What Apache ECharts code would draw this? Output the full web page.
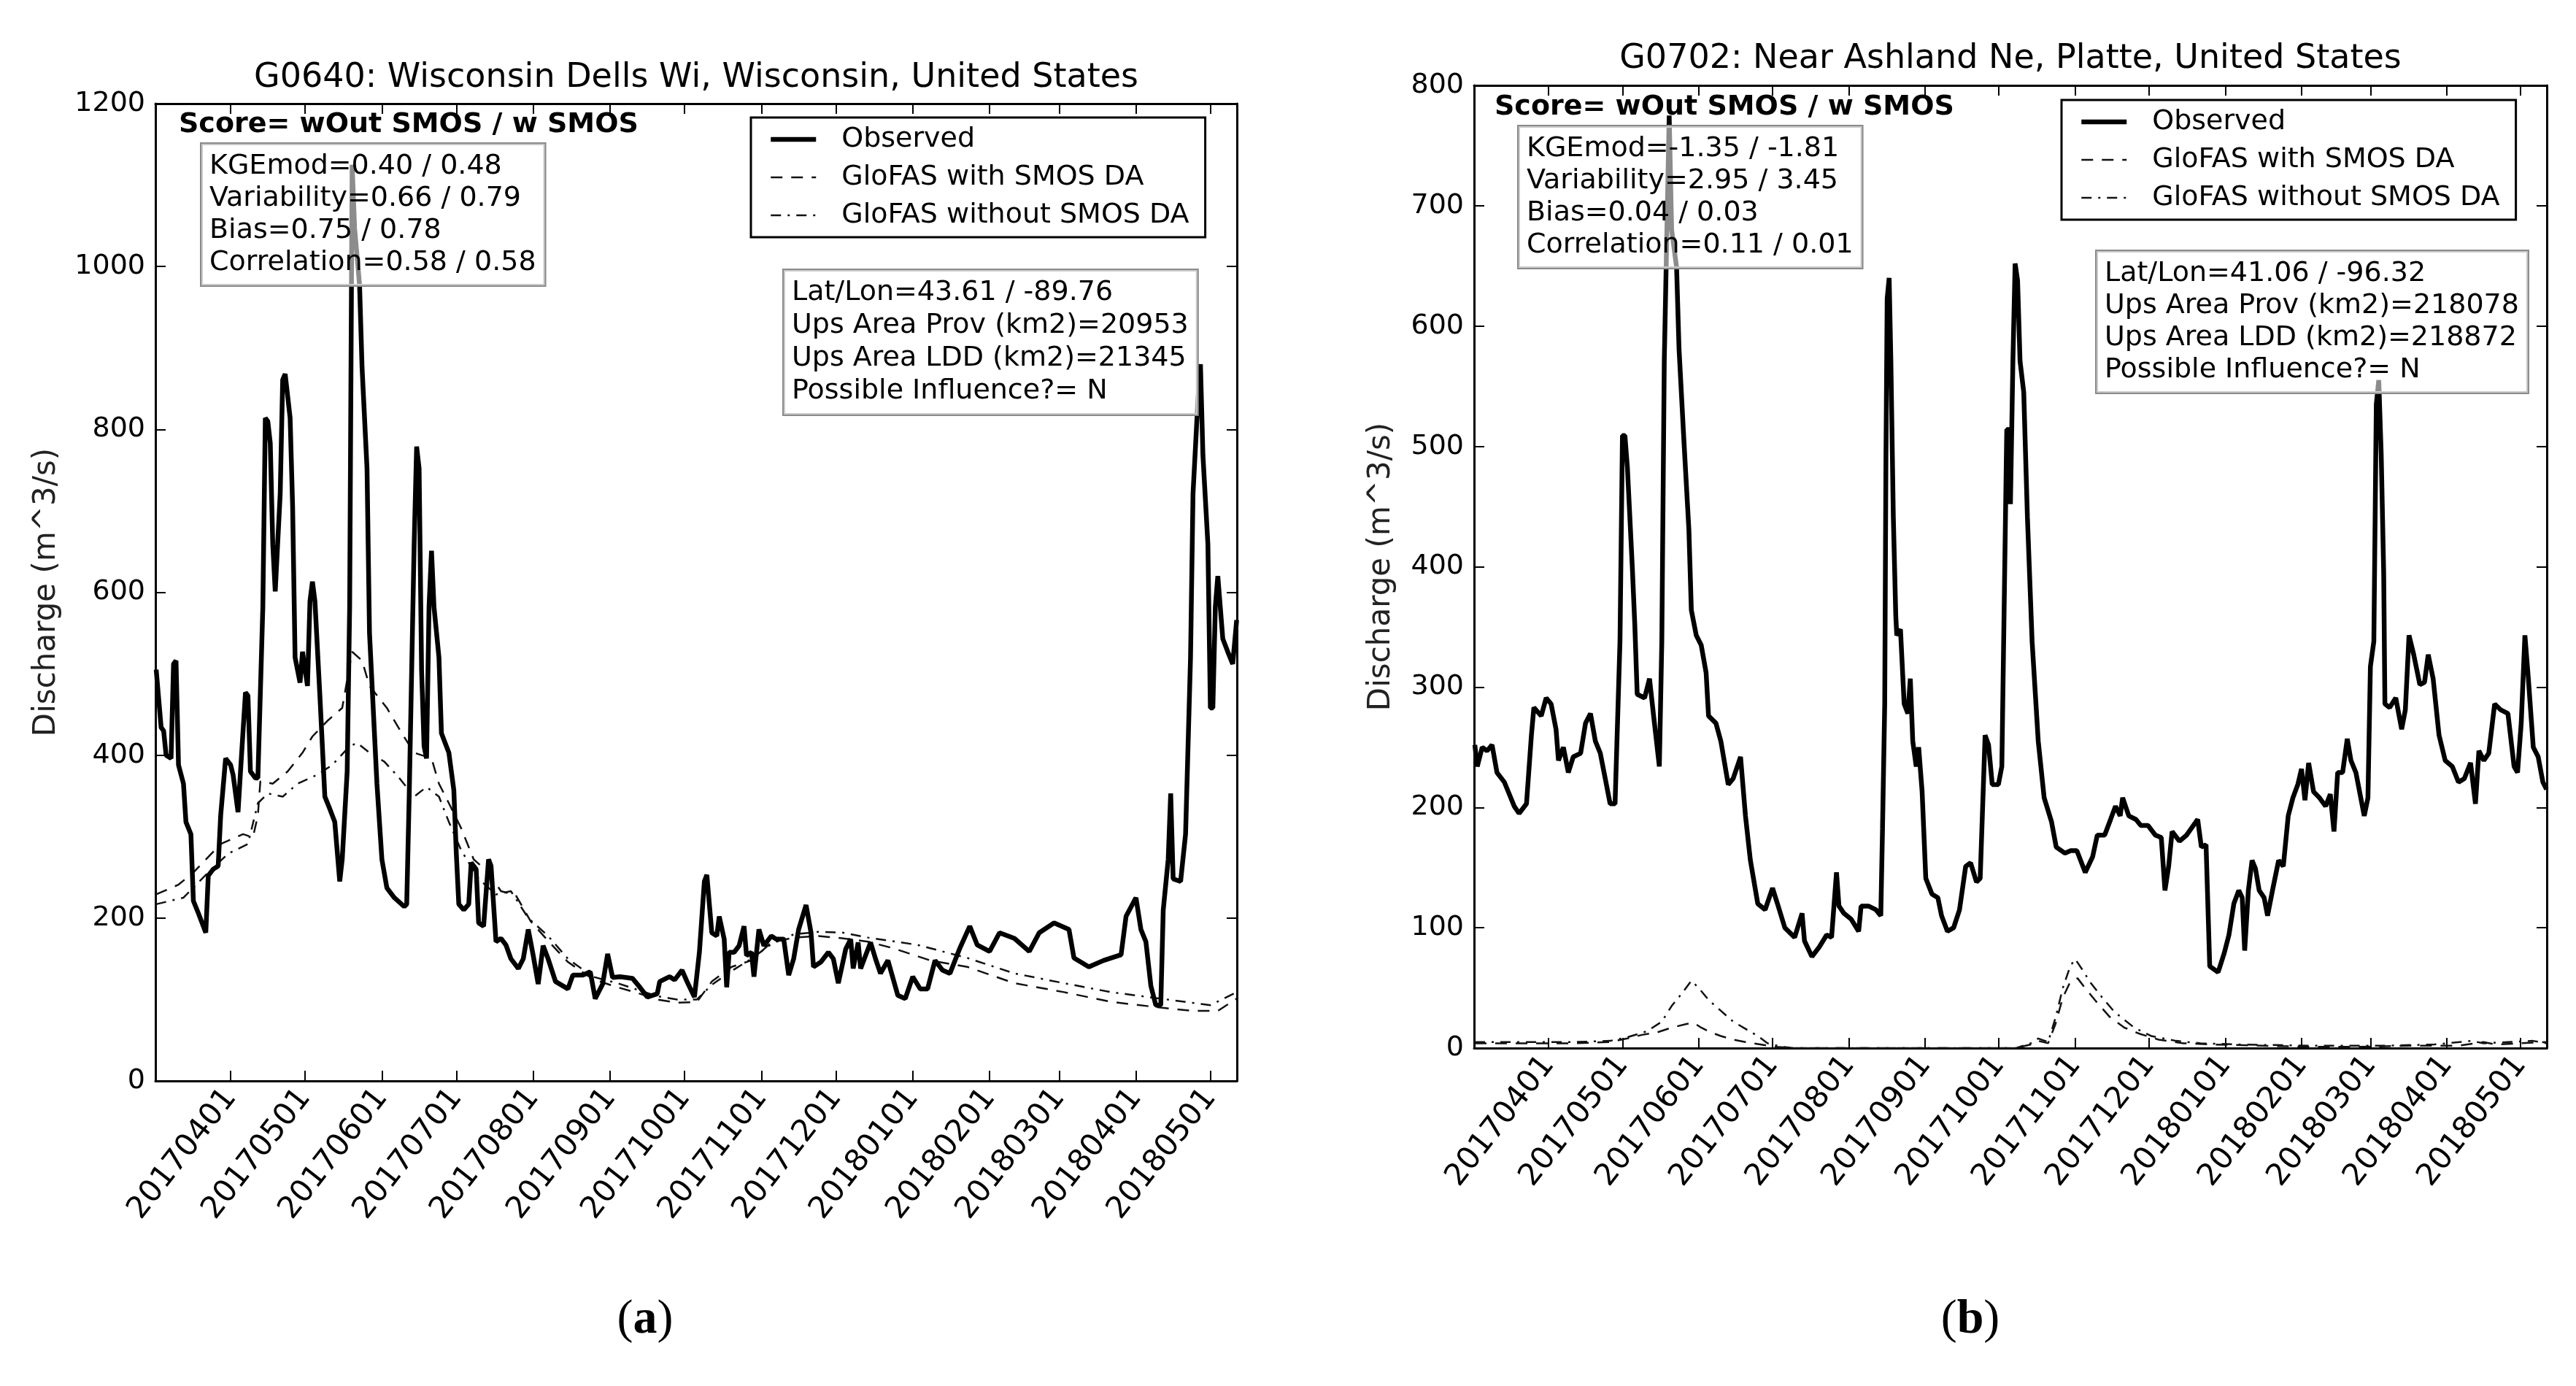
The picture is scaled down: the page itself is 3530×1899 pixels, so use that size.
<!DOCTYPE html>
<html lang="en">
<head>
<meta charset="UTF-8">
<title>GloFAS discharge with and without SMOS DA</title>
<script src="https://cdn.jsdelivr.net/npm/echarts@6.0.0/dist/echarts.min.js"></script>
<style>
html, body { margin: 0; padding: 0; background: #fff; }
#chart { width: 3530px; height: 1899px; }
</style>
</head>
<body>
<div id="chart"></div>
<script>
// month ticks on the x axis
const tickLabels = ['20170401', '20170501', '20170601', '20170701', '20170801', '20170901', '20171001',
  '20171101', '20171201', '20180101', '20180201', '20180301', '20180401', '20180501'];
const seriesNames = ['Observed', 'GloFAS with SMOS DA', 'GloFAS without SMOS DA'];

// (a) G0640 - day offsets are counted from 2017-03-02
const obsDaysA = [0, 2, 3, 4, 6, 7, 8, 9, 11, 12, 14, 15, 17, 20, 21, 23, 25, 26, 28, 30, 31, 33, 34, 36, 37, 38, 40, 41,
  43, 44, 45, 46, 47, 48, 50, 51, 52, 54, 55, 56, 58, 59, 61, 62, 63, 64, 66, 68, 70, 72, 74, 75, 77, 78, 79, 80, 82, 83,
  85, 86, 89, 91, 93, 96, 100, 101, 102, 104, 105, 106, 107, 108, 109, 110, 111, 112, 114, 115, 118, 120, 121, 122, 124,
  126, 127, 129, 130, 132, 134, 135, 137, 139, 141, 143, 146, 148, 150, 152, 154, 156, 158, 161, 166, 168, 172, 175, 177,
  180, 182, 184, 187, 192, 195, 198, 202, 203, 207, 209, 212, 214, 217, 219, 221, 222, 224, 226, 227, 229, 230, 231, 233,
  235, 237, 238, 240, 241, 243, 245, 248, 250, 253, 255, 257, 259, 262, 264, 265, 268, 271, 273, 275, 278, 280, 281, 283,
  284, 286, 288, 290, 292, 295, 299, 302, 305, 308, 311, 314, 317, 320, 324, 328, 331, 336, 340, 346, 352, 356, 362, 368,
  370, 376, 382, 389, 391, 395, 397, 399, 401, 403, 405, 406, 408, 409, 410, 413, 415, 417, 418, 420, 421, 422, 424, 425,
  426, 427, 428, 430, 432, 434, 435.6];
const obsA = [505, 434, 430, 400, 396, 512, 516, 388, 365, 318, 303, 221, 206, 182, 252, 260, 264, 326, 396, 388, 376, 330,
  380, 477, 473, 380, 372, 372, 582, 814, 810, 783, 659, 601, 721, 861, 868, 814, 706, 520, 489, 527, 485, 589, 613, 589,
  473, 349, 334, 318, 245, 272, 380, 582, 1125, 1047, 977, 876, 752, 550, 365, 272, 237, 225, 214, 217, 349, 659, 779, 752,
  504, 411, 396, 582, 651, 582, 520, 427, 403, 357, 279, 217, 210, 217, 268, 260, 194, 190, 272, 264, 171, 175, 167, 150,
  138, 150, 186, 154, 119, 166, 150, 122, 113, 130, 130, 134, 101, 119, 156, 127, 128, 126, 115, 103, 107, 122, 128, 124,
  136, 122, 103, 158, 245, 253, 182, 178, 202, 174, 115, 158, 158, 166, 190, 154, 158, 128, 186, 166, 178, 174, 174, 130,
  150, 186, 216, 182, 140, 146, 158, 150, 120, 162, 174, 138, 170, 138, 154, 170, 150, 132, 148, 105, 101, 128, 113, 113,
  148, 136, 132, 163, 190, 167, 159, 182, 175, 159, 182, 194, 186, 151, 140, 148, 155, 202, 225, 186, 171, 117, 93, 93,
  210, 272, 353, 248, 245, 303, 520, 721, 837, 880, 768, 659, 458, 458, 582, 620, 543, 527, 512, 566];
const withDaysA = [0, 9, 15, 21, 26, 35, 39, 41, 42, 47, 53, 59, 63, 69, 75, 79, 83, 86, 93, 99, 104, 111, 114, 118, 123,
  128, 134, 139, 145, 151, 158, 166, 176, 186, 194, 202, 210, 218, 224, 232, 240, 248, 257, 267, 277, 287, 297, 312, 327,
  346, 366, 385, 405, 418, 428, 435.6];
const withA = [229, 241, 256, 275, 291, 303, 299, 326, 368, 365, 380, 403, 423, 442, 458, 527, 516, 485, 458, 427, 403,
  396, 365, 341, 310, 272, 256, 233, 228, 196, 172, 146, 125, 115, 108, 100, 96, 97, 122, 140, 148, 170, 176, 178, 175,
  171, 163, 148, 140, 120, 109, 97, 90, 86, 86, 101];
const woutDaysA = [0, 11, 21, 29, 37, 41, 45, 51, 57, 65, 71, 78, 81, 86, 92, 98, 104, 109, 114, 118, 123, 130, 137, 143,
  150, 158, 166, 176, 186, 194, 202, 210, 218, 224, 232, 240, 248, 257, 267, 277, 287, 307, 327, 346, 366, 385, 405, 425,
  435.6];
const woutA = [217, 225, 256, 279, 291, 341, 353, 349, 365, 376, 388, 411, 415, 403, 392, 372, 349, 361, 349, 318, 283,
  248, 229, 233, 200, 178, 150, 128, 120, 112, 104, 100, 100, 118, 135, 150, 168, 180, 183, 182, 176, 167, 151, 132, 120,
  109, 101, 93, 109];

// (b) G0702
const obsDaysB = [0, 1, 3, 5, 7, 9, 12, 13, 16, 18, 21, 23, 24, 27, 29, 31, 33, 34, 36, 38, 40, 43, 45, 47, 49, 51, 53,
  55, 57, 59, 60, 61, 62, 64, 65, 66, 69, 71, 73, 75, 76, 77, 79, 80, 82, 83, 85, 87, 88, 90, 92, 94, 95, 98, 100, 103,
  105, 108, 110, 112, 115, 118, 121, 123, 126, 130, 133, 134, 137, 140, 143, 145, 147, 148, 150, 153, 156, 157, 160, 163,
  165, 165.7, 166.6, 167.1, 167.6, 168.4, 169.1, 170.1, 171.1, 171.5, 173, 174.5, 176, 177, 178, 179.4, 180.4, 181.8,
  183.3, 185.8, 188.2, 189.7, 192.1, 194.6, 197, 199.5, 201.5, 203.9, 205.4, 207.4, 208.8, 210.3, 212.8, 214.2, 216.2,
  217.2, 217.7, 218.7, 219.6, 220.6, 221.6, 223.1, 224.6, 226.5, 229, 231.4, 234.4, 236.3, 239.8, 242.2, 244.7, 248.1,
  251.1, 253, 256, 258.4, 260.4, 262.3, 263.3, 265.8, 268.7, 270.7, 273.6, 276.6, 279, 280.5, 282, 283.4, 286.4, 289.3,
  293.8, 295.3, 297.2, 298.7, 302.1, 304.6, 306.5, 308.5, 310.5, 311.9, 312.9, 314.4, 315.9, 317.3, 318.8, 320.8, 322.2,
  324.2, 326.7, 328.6, 330.6, 332.5, 334.5, 336, 337.4, 338.9, 340.9, 343.3, 345.8, 347.7, 349.2, 350.7, 352.7, 354.6,
  356.1, 358.1, 361.5, 363, 364, 365.4, 366.4, 367.4, 368.4, 369.4, 369.9, 371.8, 374.3, 376.7, 378.2, 379.7, 381.6,
  384.1, 386, 387.5, 389.5, 391.9, 394.4, 397.3, 399.8, 402.2, 404.7, 406.7, 408.1, 410.1, 412.1, 414.5, 417, 419.9,
  422.4, 423.8, 425.3, 426.8, 428.2, 430.2, 432.2, 434.1, 435.6];
const obsB = [252, 234, 250, 247, 252, 229, 221, 216, 201, 195, 203, 260, 283, 276, 291, 286, 265, 239, 250, 229, 242,
  245, 270, 278, 255, 245, 224, 203, 203, 338, 509, 509, 483, 400, 353, 294, 291, 307, 270, 234, 338, 571, 775, 680, 649,
  581, 504, 431, 364, 343, 335, 312, 276, 270, 255, 219, 224, 242, 193, 156, 120, 115, 133, 120, 100, 92, 112, 89, 76,
  84, 94, 92, 146, 118, 112, 107, 97, 118, 118, 115, 110, 182, 286, 493, 623, 640, 571, 441, 359, 343, 348, 286, 278,
  307, 255, 234, 250, 213, 141, 128, 125, 110, 97, 100, 115, 151, 154, 138, 141, 260, 252, 219, 219, 234, 514, 514, 452,
  571, 652, 638, 571, 545, 441, 338, 255, 208, 188, 167, 162, 164, 164, 146, 159, 177, 177, 190, 201, 193, 208, 193,
  190, 185, 185, 177, 175, 131, 151, 180, 172, 177, 190, 167, 169, 68, 63, 79, 94, 120, 131, 125, 81, 131, 156, 149,
  131, 125, 110, 131, 156, 151, 193, 208, 219, 232, 206, 237, 213, 208, 201, 211, 180, 229, 229, 257, 239, 229, 193,
  208, 317, 338, 535, 555, 493, 395, 286, 283, 291, 265, 281, 343, 327, 302, 304, 327, 307, 260, 239, 234, 221, 224,
  237, 203, 247, 239, 245, 286, 281, 278, 234, 229, 270, 343, 307, 250, 242, 221, 215];
const withDaysB = [0, 20, 40, 55, 62, 68, 74, 80, 86, 89, 92, 96, 100, 105, 110, 116, 122, 130, 220, 226, 229, 233, 236,
  239, 242, 245, 248, 252, 258, 264, 270, 278, 288, 300, 320, 340, 360, 380, 400, 410, 415, 425, 435.6];
const withB = [4, 4, 4, 5, 8, 11, 13, 17, 20, 21, 17, 13, 10, 7, 5, 3, 1, 0, 0, 3, 6, 4, 20, 42, 55, 58, 50, 40, 26, 17,
  12, 7, 4, 3, 2, 1, 1, 2, 2, 5, 3, 4, 5];
const woutDaysB = [0, 20, 40, 55, 62, 70, 76, 80, 84, 88, 91, 95, 100, 105, 110, 115, 119, 125, 130, 220, 226, 229, 233,
  236, 239, 242, 244, 247, 250, 255, 260, 268, 275, 285, 295, 310, 340, 370, 390, 405, 410, 420, 430, 435.6];
const woutB = [5, 5, 5, 6, 9, 14, 22, 35, 45, 56, 50, 40, 31, 22, 16, 10, 4, 1, 0, 0, 4, 8, 5, 25, 50, 68, 74, 65, 55,
  42, 30, 17, 10, 6, 4, 3, 2, 2, 3, 6, 4, 5, 6, 4];

const FONT = '"DejaVu Sans", "Open Sans", sans-serif';
const DAY = 86400000;
const day0 = Date.UTC(2017, 2, 2);
// position of each month tick, in days from 2017-03-02
const tickDays = tickLabels.map(s => Math.round((Date.UTC(+s.slice(0, 4), +s.slice(4, 6) - 1, +s.slice(6, 8)) - day0) / DAY));

function pairs(days, vals) {
  return days.map((d, i) => [d, vals[i]]);
}

function dayAxis(grid, pos, labels) {
  return {
    type: 'value', gridIndex: grid, position: pos, min: -0.3, max: 435.7,
    axisLine: { show: true, onZero: false, lineStyle: { color: '#000', width: 3 } },
    axisTick: { show: true, inside: true, length: 14, customValues: tickDays, lineStyle: { color: '#000', width: 2 } },
    axisLabel: {
      show: labels, customValues: tickDays, rotate: 52, margin: 16, color: '#000',
      fontFamily: FONT, fontSize: 42, showMinLabel: true, showMaxLabel: true, hideOverlap: false,
      formatter: v => { const i = tickDays.indexOf(Math.round(v)); return i >= 0 ? tickLabels[i] : ''; }
    },
    splitLine: { show: false }, minorTick: { show: false }
  };
}

function valueAxis(grid, pos, max, step, labels, nameGap) {
  return {
    type: 'value', gridIndex: grid, position: pos, min: 0, max: max, interval: step,
    name: labels ? 'Discharge (m^3/s)' : '', nameLocation: 'middle', nameGap: nameGap,
    nameTextStyle: { fontFamily: FONT, fontSize: 42, color: '#222' },
    axisLine: { show: true, onZero: false, lineStyle: { color: '#000', width: 3 } },
    axisTick: { show: true, inside: true, length: 14, lineStyle: { color: '#000', width: 2 } },
    axisLabel: {
      show: labels, margin: 14, color: '#000', fontFamily: FONT, fontSize: 38,
      showMinLabel: true, showMaxLabel: true, formatter: v => String(v)
    },
    splitLine: { show: false }
  };
}

function lines(xi, yi, obs, withDa, wout) {
  return [
    { name: seriesNames[1], type: 'line', xAxisIndex: xi, yAxisIndex: yi, data: withDa, symbol: 'none',
      itemStyle: { color: '#111' }, lineStyle: { color: '#111', width: 2.5, type: [16, 12] }, z: 3 },
    { name: seriesNames[2], type: 'line', xAxisIndex: xi, yAxisIndex: yi, data: wout, symbol: 'none',
      itemStyle: { color: '#111' }, lineStyle: { color: '#111', width: 2.5, type: [14, 9, 3, 9] }, z: 3 },
    { name: seriesNames[0], type: 'line', xAxisIndex: xi, yAxisIndex: yi, data: obs, symbol: 'none',
      itemStyle: { color: '#000' }, lineStyle: { color: '#000', width: 6.5 }, z: 4 }
  ];
}

function legendBox(left, top) {
  return {
    data: seriesNames, orient: 'vertical', left: left, top: top, selectedMode: false,
    itemWidth: 62, itemHeight: 20, itemGap: 14, padding: [11, 22, 11, 24],
    borderColor: '#000', borderWidth: 3, backgroundColor: '#fff',
    itemStyle: { opacity: 0 },
    lineStyle: { width: 'inherit', type: 'inherit' },
    textStyle: { fontFamily: FONT, fontSize: 38, color: '#000', padding: [0, 0, 0, 30] }
  };
}

function textBox(x, y, txt, lh) {
  return {
    type: 'text', x: x, y: y, z: 100,
    style: {
      text: txt, fill: '#000', font: '38px ' + FONT, lineHeight: lh,
      backgroundColor: 'rgba(255,255,255,0.55)', borderColor: '#8a8a8a', borderWidth: 2, padding: [9, 12, 9, 11]
    }
  };
}

function plain(x, y, txt, font, align) {
  return { type: 'text', x: x, y: y, z: 100, style: { text: txt, fill: '#000', font: font, textAlign: align || 'left' } };
}

function caption(x, y, letter) {
  return {
    type: 'text', x: x, y: y, z: 100,
    style: {
      text: '{p|(}{b|' + letter + '}{p|)}', textAlign: 'center',
      rich: {
        p: { fontFamily: '"Liberation Serif", serif', fontSize: 66, fill: '#000' },
        b: { fontFamily: '"Liberation Serif", serif', fontSize: 66, fontWeight: 'bold', fill: '#000' }
      }
    }
  };
}

const chart = echarts.init(document.getElementById('chart'));

chart.setOption({
  animation: false,
  backgroundColor: '#fff',
  grid: [
    { left: 213, top: 142, width: 1482, height: 1339, containLabel: false, outerBoundsMode: 'none' },
    { left: 2020, top: 117, width: 1470, height: 1319, containLabel: false, outerBoundsMode: 'none' }
  ],
  xAxis: [dayAxis(0, 'bottom', true), dayAxis(0, 'top', false), dayAxis(1, 'bottom', true), dayAxis(1, 'top', false)],
  yAxis: [valueAxis(0, 'left', 1200, 200, true, 128), valueAxis(0, 'right', 1200, 200, false, 0),
    valueAxis(1, 'left', 800, 100, true, 106), valueAxis(1, 'right', 800, 100, false, 0)],
  legend: [legendBox(1029, 161), legendBox(2825, 137)],
  series: lines(0, 0, pairs(obsDaysA, obsA), pairs(withDaysA, withA), pairs(woutDaysA, woutA))
    .concat(lines(2, 2, pairs(obsDaysB, obsB), pairs(withDaysB, withB), pairs(woutDaysB, woutB))),
  graphic: [
    plain(954, 84, 'G0640: Wisconsin Dells Wi, Wisconsin, United States', '46px ' + FONT, 'center'),
    plain(2755, 58, 'G0702: Near Ashland Ne, Platte, United States', '46px ' + FONT, 'center'),
    plain(245, 152, 'Score= wOut SMOS / w SMOS', 'bold 38px ' + FONT),
    plain(2048, 128, 'Score= wOut SMOS / w SMOS', 'bold 38px ' + FONT),
    textBox(276, 197, 'KGEmod=0.40 / 0.48\nVariability=0.66 / 0.79\nBias=0.75 / 0.78\nCorrelation=0.58 / 0.58', 44),
    textBox(2081, 173, 'KGEmod=-1.35 / -1.81\nVariability=2.95 / 3.45\nBias=0.04 / 0.03\nCorrelation=0.11 / 0.01', 44),
    textBox(1074, 370, 'Lat/Lon=43.61 / -89.76\nUps Area Prov (km2)=20953\nUps Area LDD (km2)=21345\nPossible Influence?= N', 45),
    textBox(2873, 344, 'Lat/Lon=41.06 / -96.32\nUps Area Prov (km2)=218078\nUps Area LDD (km2)=218872\nPossible Influence?= N', 44),
    caption(884, 1776, 'a'),
    caption(2700, 1776, 'b')
  ]
});
</script>
</body>
</html>
